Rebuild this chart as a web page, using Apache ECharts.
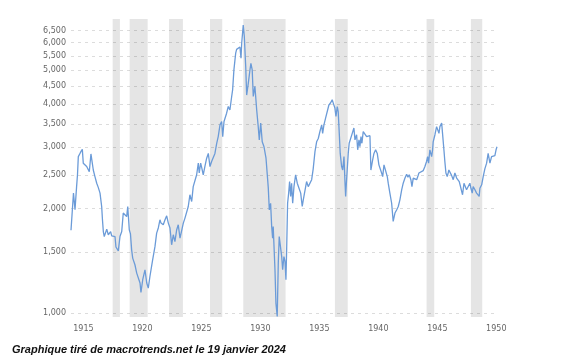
<!DOCTYPE html>
<html><head><meta charset="utf-8">
<script src="https://cdn.jsdelivr.net/npm/echarts@6/dist/echarts.min.js"></script>
<style>html,body{margin:0;padding:0;background:#fff}#c{width:570px;height:364px}</style>
</head><body><div id="c"></div>
<script>
// decimal-year positions of the monthly readings
const dates = [
1914.95,1915.16,1915.29,1915.42,1915.50,1915.57,1915.71,1915.80,1915.91,1915.99,
1916.14,1916.28,1916.42,1916.50,1916.64,1916.76,1916.84,1916.98,
1917.13,1917.26,1917.41,1917.55,1917.62,1917.69,1917.77,1917.98,
1918.11,1918.31,1918.40,1918.68,1918.76,1918.96,
1919.10,1919.25,1919.38,1919.53,1919.67,1919.76,1919.89,1919.99,
1920.09,1920.18,1920.37,1920.52,1920.65,1920.80,1920.88,
1921.03,1921.22,1921.37,1921.50,1921.64,1921.87,
1922.07,1922.21,1922.35,1922.49,1922.58,1922.77,1922.92,
1923.06,1923.20,1923.34,1923.48,1923.62,1923.76,1923.91,
1924.04,1924.19,1924.33,1924.47,1924.61,1924.76,1924.89,
1925.03,1925.18,1925.31,1925.46,1925.60,1925.74,1925.82,1925.94,
1926.03,1926.16,1926.31,1926.45,1926.59,1926.73,1926.87,
1927.01,1927.15,1927.30,1927.43,1927.58,1927.72,1927.81,1927.92,
1928.06,1928.14,1928.28,1928.42,1928.57,1928.65,1928.76,1928.91,1928.99,
1929.13,1929.27,1929.36,1929.42,1929.55,1929.64,1929.76,1929.84,1929.98,
1930.12,1930.20,1930.31,1930.40,1930.54,1930.69,1930.82,1930.91,
1931.03,1931.16,1931.31,1931.48,1931.59,1931.67,1931.76,1931.87,1931.96,
1932.04,1932.09,1932.24,1932.32,1932.43,1932.52,1932.60,1932.72,1932.81,1932.89,
1933.00,1933.09,1933.17,1933.23,1933.31,1933.40,1933.48,1933.57,1933.65,1933.74,1933.85,1933.99,
1934.13,1934.27,1934.42,1934.55,1934.64,1934.78,1934.92,
1935.06,1935.20,1935.35,1935.48,1935.63,1935.77,1935.91,
1936.05,1936.20,1936.28,1936.39,1936.53,1936.67,1936.81,1936.96,
1937.09,1937.18,1937.32,1937.41,1937.52,1937.60,1937.69,1937.77,1937.89,1937.98,
1938.09,1938.17,1938.23,1938.31,1938.45,1938.53,1938.65,1938.79,1938.93,
1939.02,1939.16,1939.25,1939.36,1939.44,1939.53,1939.61,1939.72,1939.87,
1940.01,1940.14,1940.29,1940.37,1940.52,1940.63,1940.77,1940.91,
1941.05,1941.18,1941.28,1941.37,1941.48,1941.62,1941.76,1941.84,1941.98,
1942.13,1942.26,1942.41,1942.55,1942.69,1942.83,1942.98,
1943.11,1943.26,1943.40,1943.51,1943.62,1943.76,1943.85,1943.96,
1944.10,1944.25,1944.36,1944.44,1944.53,1944.81,1944.95,
1945.09,1945.18,1945.26,1945.37,1945.52,1945.60,1945.65,1945.80,1945.94,
1946.03,1946.14,1946.22,1946.37,1946.45,1946.56,1946.64,1946.73,1946.84,1946.92,1946.98,
1947.13,1947.21,1947.35,1947.49,1947.64,1947.75,1947.86,
1948.00,1948.14,1948.26,1948.34,1948.48,1948.62,1948.76,1948.85,1948.96,
1949.04,1949.19,1949.33,1949.47,1949.55,1949.61,1949.76,1949.89,
1950.03,1950.18,1950.31,1950.46,1950.60,1950.74,1950.88,1950.98,1951.06
];
// inflation-adjusted index level
const values = [
1730,2215,1985,2300,2500,2820,2880,2920,2960,2700,
2730,2640,2610,2550,2870,2840,2580,2470,
2364,2300,2214,2026,1850,1716,1660,1744,
1680,1716,1668,1660,1549,1510,
1660,1716,1940,1950,1895,2026,1737,1690,
1520,1439,1377,1303,1317,1220,1146,
1247,1332,1220,1180,1274,1423,
1555,1698,1757,1855,1815,1795,1855,
1904,1815,1757,1572,1680,1606,1737,
1795,1642,1625,1815,1876,1895,2026,
2190,2094,2311,2340,2500,2700,2530,2700,
2620,2500,2650,2790,2880,2640,2730,
2760,2880,3080,3220,3480,3560,3220,3560,
3570,3760,3930,3840,4200,4390,5010,5600,5740,
5670,5830,5410,5990,6740,6250,5120,4240,4590,
5010,5230,5010,4200,4490,3840,3440,3150,
3520,3110,3010,2790,2820,2300,1980,2070,1774,
1642,1774,1332,1068,978,1392,1660,1642,1454,1332,
1454,1407,1247,1520,2070,2214,2390,2166,2364,2070,2311,2500,
2364,2290,2214,2026,2117,2117,2390,
2311,2290,2420,2600,2915,3110,3180,
3330,3480,3290,3480,3640,3680,3970,4030,
4110,4020,3890,3680,3930,3800,3290,2880,2640,2580,
2820,2400,2166,2420,2880,3080,3050,3290,3410,
3150,3260,2950,3150,3010,3220,3080,3330,3290,
3220,3260,3240,2580,2760,2880,2950,2880,
2670,2700,2530,2470,2670,2640,2470,2364,2214,
2070,1835,1940,1980,2026,2117,2263,
2364,2446,2510,2460,2500,2420,2311,2446,
2430,2420,2480,2530,2560,2570,2640,
2730,2820,2700,2950,2820,2950,3110,3260,3440,
3480,3290,3440,3520,3540,2950,2730,2530,2470,2530,2580,
2550,2490,2420,2530,2446,2440,2390,
2390,2190,2364,2390,2263,2236,2364,2286,2214,
2311,2263,2214,2190,2166,2286,2340,2470,
2600,2700,2880,2700,2820,2850,2840,2950,3010
];
// recession bands [start, end] in decimal years
const recessionStarts = [1918.48,1919.92,1923.26,1926.73,1929.55,1937.32,1945.09,1948.85];
const recessionEnds   = [1919.10,1921.45,1924.44,1927.77,1933.14,1938.41,1945.74,1949.81];
// axis ticks
const yTicks = [1000,1500,2000,2500,3000,3500,4000,4500,5000,5500,6000,6500];
const xTickPositions = [1916,1921,1926,1931,1936,1941,1946,1951];
const xTickLabels = ['1915','1920','1925','1930','1935','1940','1945','1950'];
const caption = 'Graphique tiré de macrotrends.net le 19 janvier 2024';

if (dates.length !== values.length) console.error('length mismatch', dates.length, values.length);

const chart = echarts.init(document.getElementById('c'), null, {renderer:'canvas'});
const fmt = v => String(Math.round(v)).replace(/\B(?=(\d{3})+(?!\d))/g, ',');
chart.setOption({
  animation:false,
  backgroundColor:'#fff',
  title:{text:caption,left:12,top:344,padding:0,textStyle:{fontFamily:'Liberation Sans',fontSize:11,fontWeight:'bold',fontStyle:'italic',color:'#111'}},
  grid:{left:71,right:73,top:19,bottom:47,containLabel:false},
  xAxis:{type:'value',min:1914.95,max:1951.06,
    axisLine:{show:false},axisTick:{show:false,customValues:xTickPositions},splitLine:{show:false},
    axisLabel:{customValues:xTickPositions,margin:8,color:'#666',fontFamily:'DejaVu Sans',fontSize:8,
      formatter:v=>{const i=xTickPositions.indexOf(Math.round(v));return i>=0?xTickLabels[i]:'';}}},
  yAxis:{type:'log',logBase:10,min:974,max:7020,
    axisLine:{show:false},axisTick:{show:false,customValues:yTicks},
    splitLine:{show:true,lineStyle:{color:'#dcdcdc',type:[3,4],width:1}},
    axisLabel:{customValues:yTicks,margin:5,color:'#666',fontFamily:'DejaVu Sans',fontSize:8,formatter:fmt}},
  series:[
    {type:'line',data:[],z:1,silent:true,
     markArea:{silent:true,itemStyle:{color:'rgba(0,0,0,0.1)'},
       data:recessionStarts.map((s,i)=>[{xAxis:s},{xAxis:recessionEnds[i]}])}},
    {type:'line',z:3,data:dates.map((d,i)=>[d,values[i]]),symbol:'none',
     lineStyle:{color:'#6b9bd8',width:1.3},clip:true}
  ]
});
</script></body></html>
